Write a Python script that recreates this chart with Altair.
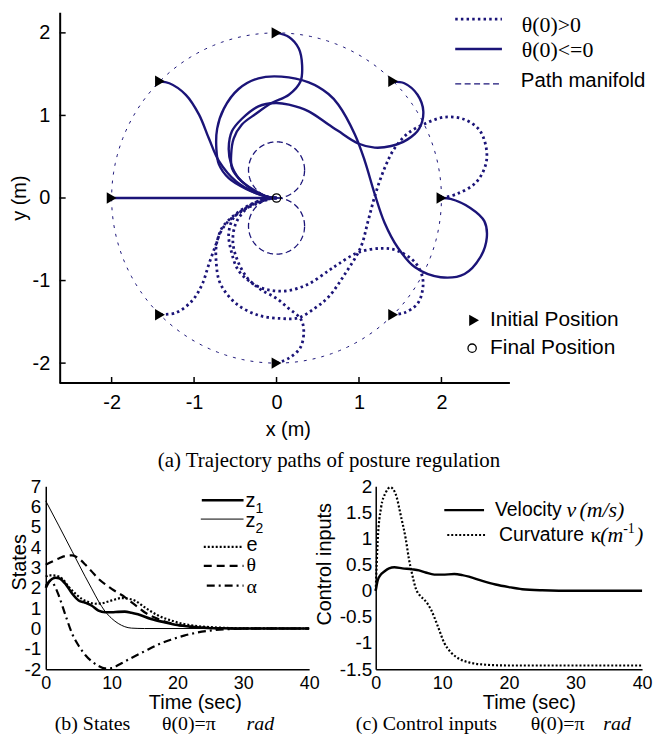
import altair as alt
import numpy as np
import pandas as pd

NAVY = "#1b1478"
SANS = "Liberation Sans"
SERIF = "Liberation Serif"

# ---------------- (a) trajectory paths (metres) ----------------
s1_x = [-2.0, 0.0]
s1_y = [0.0, 0.0]
s2_x = [-1.41, -1.30, -1.10, -0.94, -0.82, -0.70, -0.49, -0.25, -0.06, 0.0]
s2_y = [1.41, 1.39, 1.25, 1.01, 0.72, 0.45, 0.20, 0.06, 0.005, 0.0]
s3_x = [0.0, 0.15, 0.27, 0.31, 0.29, 0.15, -0.06, -0.25, -0.42, -0.52, -0.55, -0.54, -0.42, -0.22, -0.06, 0.0]
s3_y = [2.0, 1.95, 1.81, 1.61, 1.41, 1.25, 1.15, 1.02, 0.89, 0.72, 0.53, 0.36, 0.20, 0.06, 0.005, 0.0]
s4_x = [1.41, 1.55, 1.71, 1.78, 1.73, 1.59, 1.39, 1.19, 0.99, 0.75, 0.63, 0.39, 0.15, -0.01, -0.22,
        -0.42, -0.54, -0.58, -0.55, -0.46, -0.28, -0.10, 0.0]
s4_y = [1.41, 1.39, 1.25, 1.05, 0.84, 0.71, 0.63, 0.61, 0.66, 0.81, 0.89, 1.05, 1.13, 1.15, 1.11,
        0.96, 0.81, 0.60, 0.41, 0.24, 0.10, 0.01, 0.0]
s5_x = [2.0, 2.11, 2.35, 2.52, 2.55, 2.47, 2.28, 1.99, 1.68, 1.47, 1.31, 1.19, 1.07, 0.95, 0.75, 0.63,
        0.39, 0.06, -0.22, -0.46, -0.64, -0.72, -0.73, -0.70, -0.58, -0.37, -0.13, 0.0]
s5_y = [0.0, -0.01, -0.12, -0.28, -0.48, -0.72, -0.92, -0.96, -0.84, -0.60, -0.30, 0.05, 0.45, 0.77,
        1.13, 1.26, 1.40, 1.47, 1.45, 1.32, 1.08, 0.84, 0.60, 0.41, 0.24, 0.11, 0.02, 0.0]
d1_x = [2.0, 2.19, 2.43, 2.55, 2.47, 2.28, 2.04, 1.80, 1.59, 1.43, 1.31, 1.20, 1.11, 1.02, 0.83, 0.63,
        0.47, 0.27, 0.06, -0.22, -0.49, -0.68, -0.73, -0.72, -0.61, -0.42, -0.22, -0.06, 0.0]
d1_y = [0.0, 0.05, 0.20, 0.48, 0.81, 0.95, 0.98, 0.90, 0.78, 0.60, 0.36, 0.05, -0.28, -0.60, -0.92,
        -1.20, -1.33, -1.45, -1.46, -1.42, -1.28, -1.04, -0.80, -0.52, -0.31, -0.16, -0.06, -0.005, 0.0]
d2_x = [1.41, 1.55, 1.71, 1.77, 1.77, 1.68, 1.47, 1.27, 0.99, 0.75, 0.63, 0.39, 0.15, -0.06, -0.25,
        -0.46, -0.55, -0.58, -0.52, -0.34, -0.13, 0.0]
d2_y = [-1.41, -1.39, -1.28, -1.12, -0.96, -0.78, -0.64, -0.61, -0.66, -0.80, -0.88, -1.04, -1.12,
        -1.12, -1.06, -0.88, -0.64, -0.43, -0.24, -0.10, -0.01, 0.0]
d3_x = [0.0, 0.15, 0.29, 0.33, 0.29, 0.15, -0.01, -0.19, -0.36, -0.48, -0.53, -0.49, -0.34, -0.13, 0.0]
d3_y = [-2.0, -1.94, -1.81, -1.60, -1.46, -1.34, -1.21, -1.11, -0.96, -0.74, -0.52, -0.30, -0.11, -0.02, 0.0]
d4_x = [-1.41, -1.22, -1.02, -0.90, -0.82, -0.73, -0.66, -0.49, -0.30, -0.10, 0.0]
d4_y = [-1.41, -1.39, -1.24, -1.04, -0.80, -0.55, -0.36, -0.19, -0.07, -0.005, 0.0]

init_x = [-2.0, -1.414, 0.0, 1.414, 2.0, 1.414, 0.0, -1.414]
init_y = [0.0, 1.414, 2.0, 1.414, 0.0, -1.414, -2.0, -1.414]
final_x = [0.0]
final_y = [0.0]
start_radius = 2.0
manifold_cy = [0.34, -0.34]
manifold_radius = 0.34
ticks_a = [-2, -1, 0, 1, 2]
x_axis_span = [-2.63, 2.83]      # extent of the drawn x-axis line
y_axis_span = [-2.24, 2.25]

# ---------------- (b) states ----------------
t_z1 = [0, 0.5, 1, 1.5, 2, 3, 4, 5, 6, 7, 8, 9, 10, 11, 12, 13, 14, 16, 18, 20, 22, 24, 27, 30, 40]
v_z1 = [2.0, 2.3, 2.45, 2.5, 2.48, 2.2, 1.72, 1.38, 1.27, 1.12, 0.88, 0.8, 0.8, 0.82, 0.83, 0.78,
        0.7, 0.47, 0.31, 0.17, 0.09, 0.04, 0.01, 0.0, 0.0]
t_z2 = [0, 2, 4, 6, 7, 8, 9, 10, 11, 12, 13, 15, 40]
v_z2 = [6.28, 5.05, 3.8, 2.55, 1.95, 1.35, 0.85, 0.5, 0.25, 0.09, 0.02, 0.0, 0.0]
t_e = [0, 0.5, 1.5, 2.5, 3.5, 4.5, 5.5, 6.5, 7.5, 8.5, 9.5, 10.5, 11.5, 12.5, 13.5, 15, 17, 19, 21, 23,
       26, 30, 40]
v_e = [2.55, 2.62, 2.6, 2.45, 2.05, 1.72, 1.45, 1.3, 1.22, 1.24, 1.33, 1.43, 1.5, 1.47, 1.38, 1.05,
       0.65, 0.4, 0.22, 0.12, 0.05, 0.01, 0.0]
t_th = [0, 1, 2, 3, 4, 5, 6, 7, 8, 9, 10, 11, 12, 13, 14, 15, 16, 18, 20, 22, 24, 27, 30, 40]
v_th = [3.14, 3.3, 3.45, 3.57, 3.6, 3.45, 3.15, 2.8, 2.45, 2.18, 1.95, 1.75, 1.55, 1.3, 1.05, 0.8,
        0.62, 0.36, 0.18, 0.09, 0.04, 0.01, 0.0, 0.0]
t_al = [0, 0.7, 1.5, 2, 3, 4, 5, 6, 7, 8, 9, 10, 11, 12, 13, 15, 17, 19, 21, 23, 25, 28, 32, 40]
v_al = [2.1, 2.35, 2.0, 1.6, 0.65, -0.25, -0.85, -1.3, -1.62, -1.84, -1.96, -1.95, -1.8, -1.62,
        -1.45, -1.12, -0.8, -0.55, -0.35, -0.2, -0.1, -0.03, 0.0, 0.0]
ticks_bx = [0, 10, 20, 30, 40]
ticks_by = [-2, -1, 0, 1, 2, 3, 4, 5, 6, 7]

# ---------------- (c) control inputs ----------------
t_vel = [0, 0.3, 0.7, 1.3, 2, 2.8, 4, 5.5, 6.5, 7.5, 8.8, 10, 11.8, 13, 14, 16, 18, 20, 22, 25, 30, 40]
v_vel = [0.0, 0.2, 0.3, 0.37, 0.43, 0.45, 0.43, 0.41, 0.39, 0.35, 0.31, 0.31, 0.32, 0.3, 0.27, 0.19,
         0.12, 0.07, 0.03, 0.01, 0.0, 0.0]
t_cur = [0, 0.3, 0.8, 1.5, 2.2, 3.0, 3.8, 4.5, 5.0, 5.5, 6.0, 6.7, 7.3, 8.3, 9.3, 10.3, 11.3, 12.5,
         14, 16, 20, 40]
v_cur = [0.0, 0.96, 1.59, 1.88, 1.98, 1.85, 1.42, 1.0, 0.6, 0.3, 0.05, -0.1, -0.17, -0.36, -0.67,
         -1.0, -1.18, -1.3, -1.37, -1.41, -1.43, -1.43]
ticks_cy = [-1.5, -1, -0.5, 0, 0.5, 1, 1.5, 2]


def path_df(named):
    rows = []
    for name, xs_, ys_ in named:
        for i, (a, b) in enumerate(zip(xs_, ys_)):
            rows.append({"traj": name, "i": i, "x": a, "y": b})
    return pd.DataFrame(rows)


solid_df = path_df([("s1", s1_x, s1_y), ("s2", s2_x, s2_y), ("s3", s3_x, s3_y),
                    ("s4", s4_x, s4_y), ("s5", s5_x, s5_y)])
dotted_df = path_df([("d1", d1_x, d1_y), ("d2", d2_x, d2_y), ("d3", d3_x, d3_y), ("d4", d4_x, d4_y)])

ang = np.linspace(0, 2 * np.pi, 241)
circle_df = pd.DataFrame({"i": range(len(ang)), "x": start_radius * np.cos(ang),
                          "y": start_radius * np.sin(ang)})
man_rows = []
for k, cy in enumerate(manifold_cy):
    for i, a in enumerate(ang):
        man_rows.append({"c": k, "i": i, "x": manifold_radius * np.cos(a),
                         "y": cy + manifold_radius * np.sin(a)})
manifold_df = pd.DataFrame(man_rows)

one = pd.DataFrame({"k": [0]})


def hline(x1, x2, y, **kw):
    return alt.Chart(one).mark_rule(**kw).encode(x=alt.value(x1), x2=alt.value(x2), y=alt.value(y))


def label(x, y, text, size=20, font=SANS, align="left", **kw):
    return alt.Chart(one).mark_text(align=align, baseline="middle", font=font, fontSize=size,
                                    color="black", **kw).encode(
        x=alt.value(x), y=alt.value(y), text=alt.value(text))


# ---------------- top panel ----------------
# the plot area starts 14px left of the y axis so that it lines up with panel (b)
SHIFT = 14
W_A, H_A = 467, 373
xs = alt.Scale(domain=[x_axis_span[0] - SHIFT * (x_axis_span[1] - x_axis_span[0]) / (W_A - SHIFT),
                       x_axis_span[1]], nice=False, zero=False)
ys = alt.Scale(domain=y_axis_span, nice=False, zero=False)
xa = alt.Axis(values=ticks_a, title="x (m)", labelExpr="'' + datum.value", labelFontSize=20,
              titleFontSize=20, labelPadding=10, titleX=SHIFT + (W_A - SHIFT) / 2 + 3, titleY=47,
              titleBaseline="middle", domain=False)
ya = alt.Axis(values=ticks_a, title="y (m)", labelExpr="'' + datum.value", labelFontSize=20,
              titleFontSize=20, labelPadding=10, titleX=-40, titleBaseline="middle", domainWidth=2,
              offset=-SHIFT)
X = alt.X("x:Q", scale=xs, axis=xa)
Y = alt.Y("y:Q", scale=ys, axis=ya)

L = SHIFT  # legend x positions below are measured from the y axis
top = alt.layer(
    alt.Chart(circle_df).mark_line(color=NAVY, strokeWidth=1, strokeDash=[3, 6]).encode(
        x=X, y=Y, order="i:Q"),
    alt.Chart(manifold_df).mark_line(color=NAVY, strokeWidth=1.3, strokeDash=[6, 3.5]).encode(
        x=X, y=Y, order="i:Q", detail="c:N"),
    alt.Chart(solid_df).mark_line(color=NAVY, strokeWidth=2.4, interpolate="catmull-rom").encode(
        x=X, y=Y, order="i:Q", detail="traj:N"),
    alt.Chart(dotted_df).mark_line(color=NAVY, strokeWidth=2.8, strokeDash=[2.5, 3.2],
                                   strokeCap="butt", interpolate="catmull-rom").encode(
        x=X, y=Y, order="i:Q", detail="traj:N"),
    alt.Chart(pd.DataFrame({"x": init_x, "y": init_y})).mark_point(
        shape="triangle-right", filled=True, color="black", size=130, opacity=1).encode(x=X, y=Y),
    alt.Chart(pd.DataFrame({"x": final_x, "y": final_y})).mark_point(
        shape="circle", filled=False, color="black", size=70, strokeWidth=1.3, opacity=1).encode(x=X, y=Y),
    # x-axis line (starts at the y axis)
    alt.Chart(pd.DataFrame({"x": [x_axis_span[0]], "x2": [x_axis_span[1]]})).mark_rule(
        color="black", strokeWidth=2).encode(x=X, x2="x2:Q", y=alt.value(H_A)),
    # inward ticks
    alt.Chart(pd.DataFrame({"x": ticks_a})).mark_rule(color="black", strokeWidth=1.5).encode(
        x=X, y=alt.value(H_A), y2=alt.value(H_A - 6)),
    alt.Chart(pd.DataFrame({"y": ticks_a})).mark_rule(color="black", strokeWidth=1.5).encode(
        y=Y, x=alt.value(L), x2=alt.value(L + 6)),
    # legend (line styles)
    hline(L + 398, L + 445, 7, color=NAVY, strokeWidth=2.8, strokeDash=[2.5, 3.2], strokeCap="butt"),
    label(L + 465, 13, "θ(0)>0", size=22, font=SERIF),
    hline(L + 398, L + 445, 37, color=NAVY, strokeWidth=2.4),
    label(L + 465, 38, "θ(0)<=0", size=22, font=SERIF),
    hline(L + 398, L + 445, 72, color=NAVY, strokeWidth=1.3, strokeDash=[6, 3.5]),
    label(L + 464, 69, "Path manifold", size=20.5),
    # legend (markers)
    alt.Chart(one).mark_point(shape="triangle-right", filled=True, color="black", size=130,
                              opacity=1).encode(x=alt.value(L + 417), y=alt.value(310)),
    label(L + 433, 310, "Initial Position", size=21),
    alt.Chart(one).mark_point(shape="circle", filled=False, color="black", size=70, strokeWidth=1.3,
                              opacity=1).encode(x=alt.value(L + 415), y=alt.value(338)),
    label(L + 433, 338, "Final Position", size=21),
    label(L + 271, 452, "(a) Trajectory paths of posture regulation", size=21, font=SERIF,
          align="center"),
).properties(width=W_A, height=H_A)

# ---------------- bottom-left panel ----------------
W_B, H_B = 265, 184
bxs = alt.Scale(domain=[0, 40], nice=False, zero=False)
bys = alt.Scale(domain=[-2, 7], nice=False, zero=False)
bxa = alt.Axis(values=ticks_bx, title="Time (sec)", labelExpr="'' + datum.value", labelFlush=False,
               labelFontSize=18, labelPadding=5, titleX=150, titleY=33.5, titleBaseline="middle",
               labelOverlap=False)
bya = alt.Axis(values=ticks_by, title="States", labelExpr="'' + datum.value", labelPadding=5,
               titleX=-26, titleY=76, titleBaseline="middle", labelOverlap=False)
BX = alt.X("t:Q", scale=bxs, axis=bxa)
BY = alt.Y("v:Q", scale=bys, axis=bya)


def series(t, v, **kw):
    return alt.Chart(pd.DataFrame({"t": t, "v": v})).mark_line(
        color="black", interpolate="monotone", **kw).encode(x=BX, y=BY)


CAP_Y = 239
bl = alt.layer(
    series(t_z2, v_z2, strokeWidth=1),
    series(t_al, v_al, strokeWidth=2.2, strokeDash=[8, 4, 2, 4]),
    series(t_th, v_th, strokeWidth=2.2, strokeDash=[8, 5]),
    series(t_e, v_e, strokeWidth=2.2, strokeDash=[2, 2], strokeCap="butt"),
    series(t_z1, v_z1, strokeWidth=2.6),
    hline(157, 199, 14, color="black", strokeWidth=2.6),
    label(201, 15, "z", size=20),
    label(211, 23, "1", size=14),
    hline(156, 199, 33, color="black", strokeWidth=1),
    label(201, 35, "z", size=20),
    label(211, 43, "2", size=14),
    hline(159, 199, 61, color="black", strokeWidth=2.2, strokeDash=[2, 2], strokeCap="butt"),
    label(202, 59, "e", size=20),
    hline(159, 199, 80, color="black", strokeWidth=2.2, strokeDash=[8, 5]),
    label(202, 79, "θ", size=20, font=SERIF),
    hline(162, 199, 100, color="black", strokeWidth=2.2, strokeDash=[8, 4, 2, 4]),
    label(202, 101, "α", size=20, font=SERIF),
    label(9, CAP_Y, "(b) States", size=20, font=SERIF),
    label(144, CAP_Y, "θ(0)=π", size=20, font=SERIF, align="center"),
    label(202, CAP_Y, "rad", size=20, font=SERIF, fontStyle="italic"),
).properties(width=W_B, height=H_B)

# ---------------- bottom-right panel ----------------
W_C, H_C = 268, 184
cxs = alt.Scale(domain=[0, 40], nice=False, zero=False)
cys = alt.Scale(domain=[-1.5, 2], nice=False, zero=False)
cxa = alt.Axis(values=ticks_bx, title="Time (sec)", labelExpr="'' + datum.value", labelFlush=False,
               labelFontSize=18, labelPadding=5, titleX=154, titleY=33.5, titleBaseline="middle",
               labelOverlap=False)
cya = alt.Axis(values=ticks_cy, title="Control inputs", labelExpr="'' + datum.value", labelPadding=4,
               titleX=-51, titleY=78, titleBaseline="middle", labelOverlap=False)
CX = alt.X("t:Q", scale=cxs, axis=cxa)
CY = alt.Y("v:Q", scale=cys, axis=cya)


def cseries(t, v, **kw):
    return alt.Chart(pd.DataFrame({"t": t, "v": v})).mark_line(
        color="black", interpolate="monotone", **kw).encode(x=CX, y=CY)


br = alt.layer(
    cseries(t_cur, v_cur, strokeWidth=2.2, strokeDash=[2, 2], strokeCap="butt"),
    cseries(t_vel, v_vel, strokeWidth=2.4),
    hline(69, 109, 24, color="black", strokeWidth=2.4),
    label(120, 24, "Velocity", size=19.5),
    label(192, 24, "v", size=22, font=SERIF, fontStyle="italic"),
    label(205, 24, "(m/s)", size=22, font=SERIF, fontStyle="italic"),
    hline(72, 110, 49, color="black", strokeWidth=2.2, strokeDash=[2, 2], strokeCap="butt"),
    label(124, 49, "Curvature", size=19.5),
    label(216, 49, "κ", size=22, font=SERIF),
    label(226, 49, "(m", size=22, font=SERIF, fontStyle="italic"),
    label(249, 43, "-1", size=14, font=SERIF),
    label(262, 49, ")", size=22, font=SERIF, fontStyle="italic"),
    label(-20, CAP_Y, "(c) Control inputs", size=20, font=SERIF),
    label(183, CAP_Y, "θ(0)=π", size=20, font=SERIF, align="center"),
    label(229, CAP_Y, "rad", size=20, font=SERIF, fontStyle="italic"),
).properties(width=W_C, height=H_C)

bottom = alt.hconcat(bl, br, spacing=67, bounds="flush")

chart = alt.concat(top, bottom, columns=1, spacing=6, align="none").properties(
    padding={"left": 2, "top": 2, "right": 0, "bottom": 0},
    background="white",
).configure_view(stroke=None).configure_axis(
    grid=False, ticks=False, tickSize=0, domainColor="black", domainWidth=1.5,
    labelColor="black", titleColor="black", labelFont=SANS, titleFont=SANS,
    labelFontSize=19, titleFontSize=20, titleFontWeight="normal"
)

chart.save("out.html", embed_options={"renderer": "svg", "actions": False})
